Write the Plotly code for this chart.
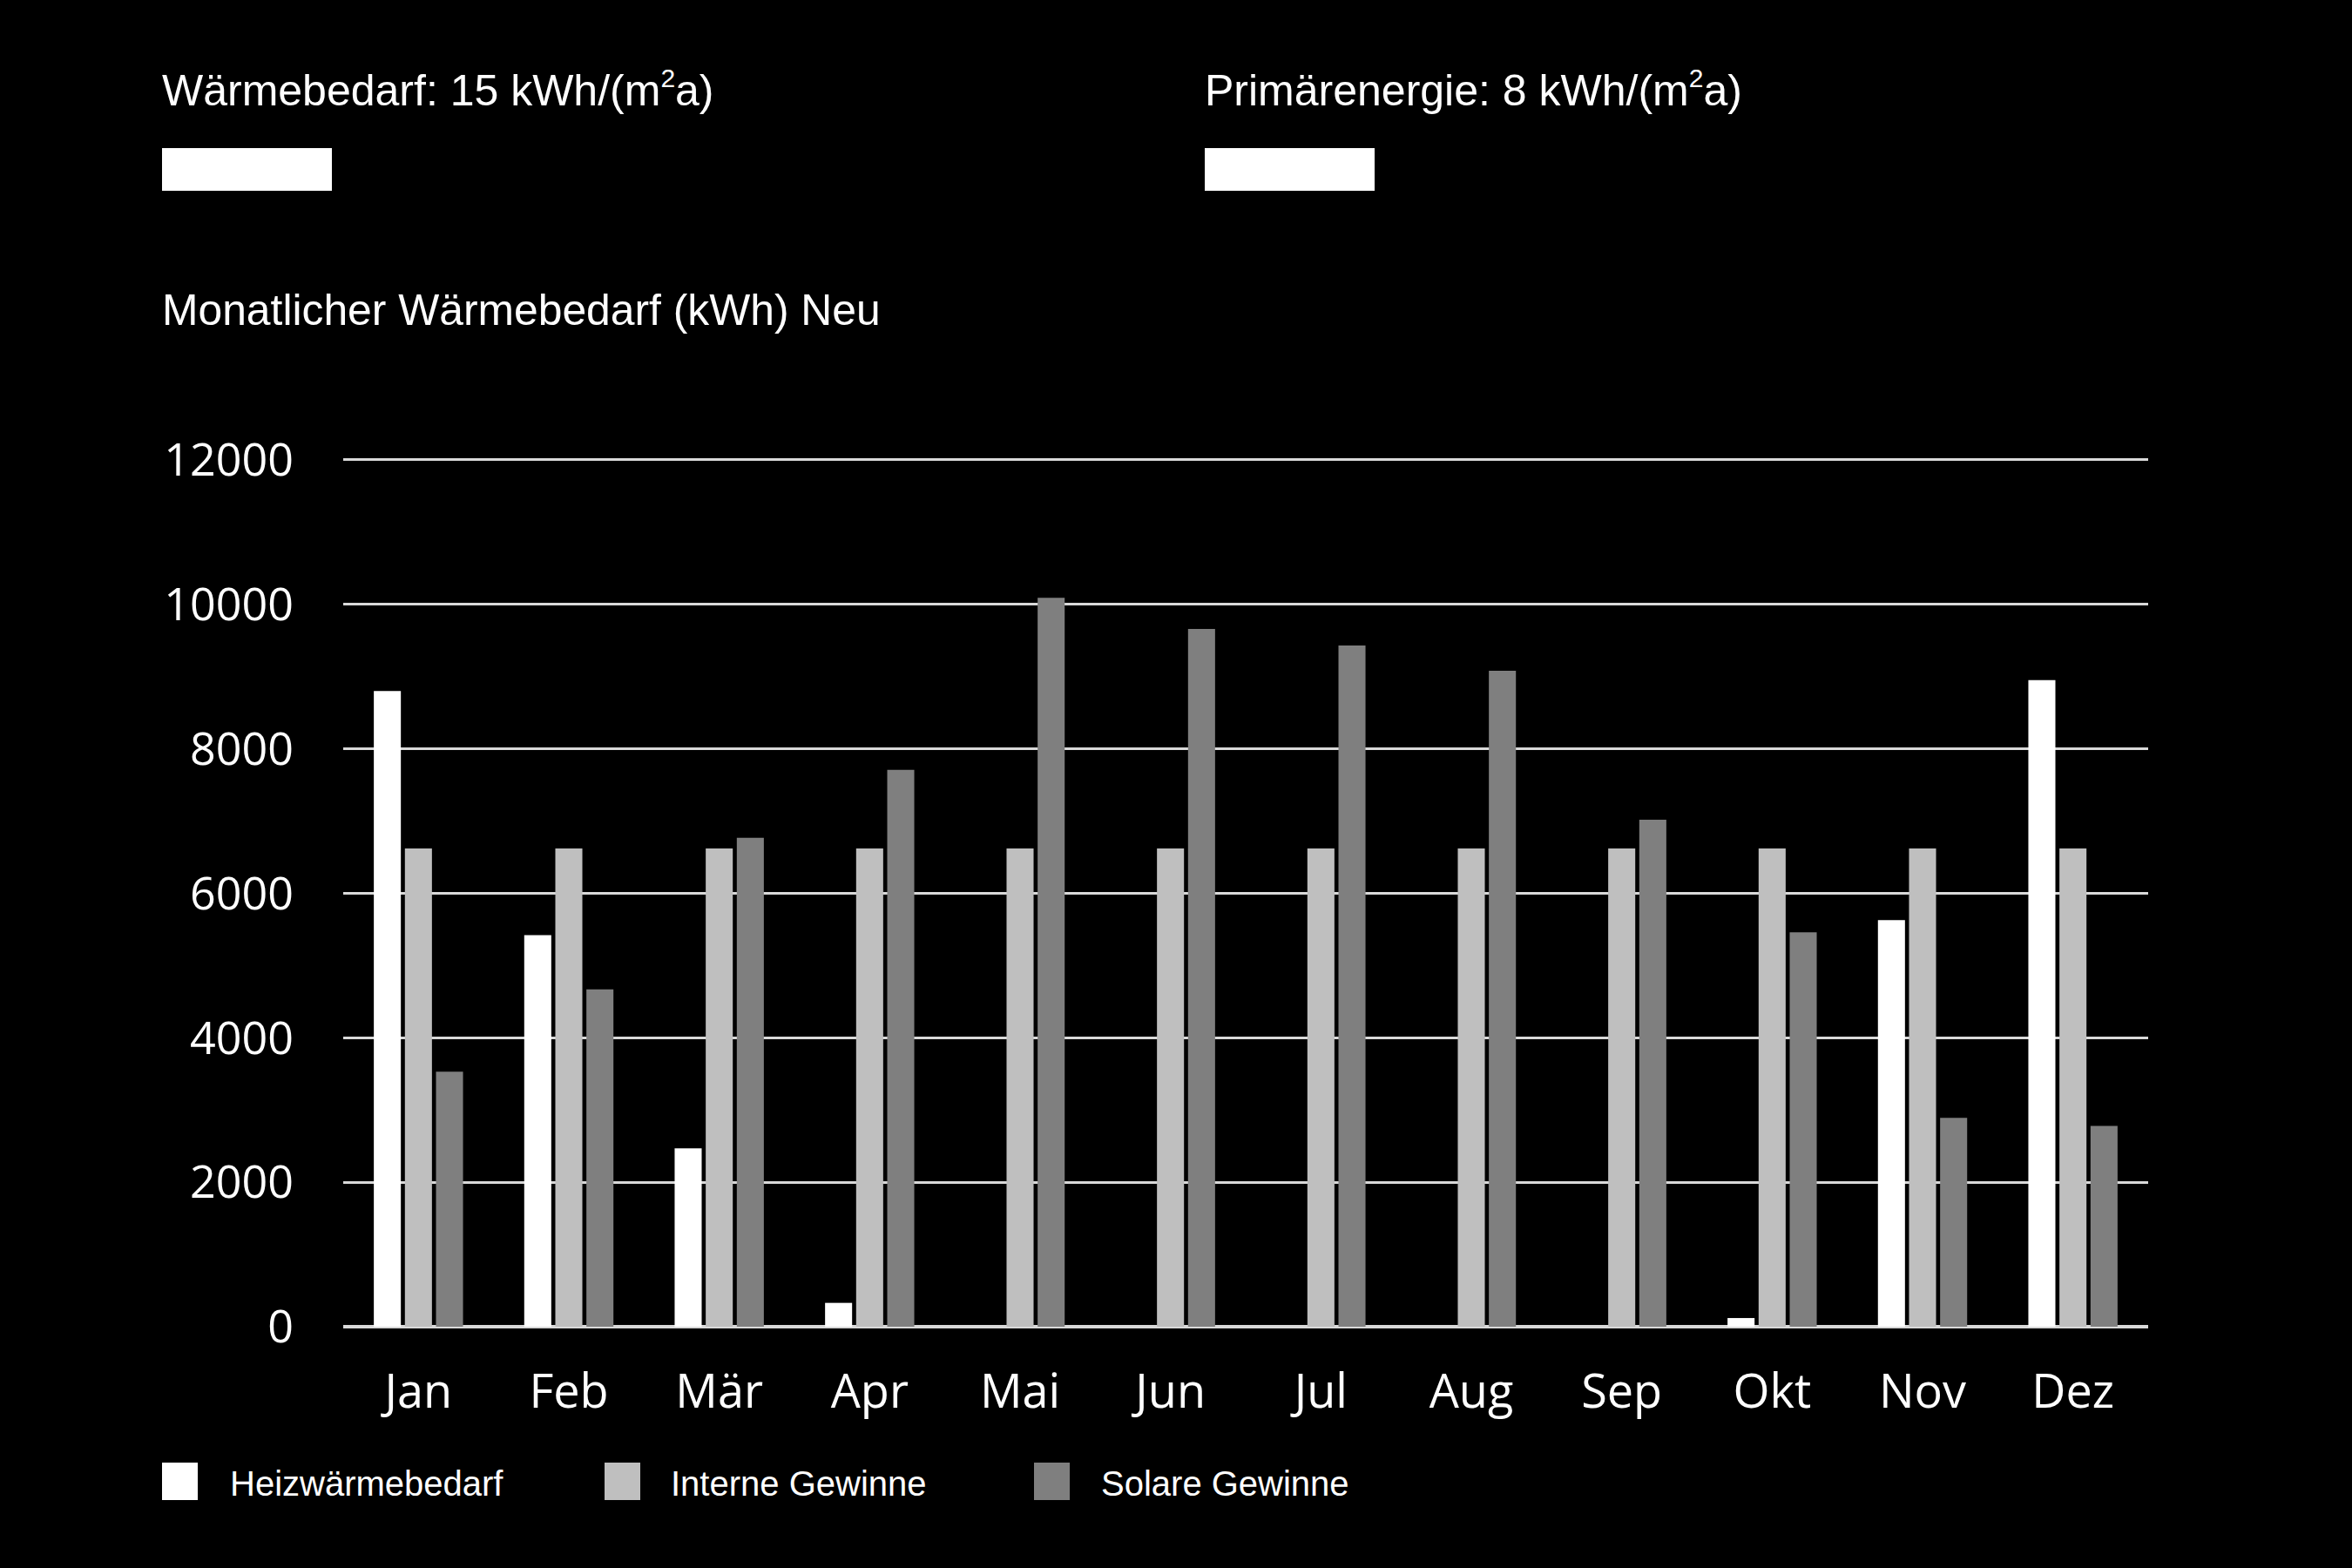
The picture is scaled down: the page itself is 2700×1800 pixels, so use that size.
import plotly.graph_objects as go

# ---- data ----
months = ["Jan", "Feb", "Mär", "Apr", "Mai", "Jun", "Jul", "Aug", "Sep", "Okt", "Nov", "Dez"]
heizwaermebedarf = [8800, 5420, 2470, 330, 0, 0, 0, 0, 0, 120, 5630, 8950]
interne_gewinne = [6620, 6620, 6620, 6620, 6620, 6620, 6620, 6620, 6620, 6620, 6620, 6620]
solare_gewinne = [3530, 4670, 6770, 7710, 10090, 9660, 9430, 9080, 7020, 5460, 2890, 2780]
series_names = ["Heizwärmebedarf", "Interne Gewinne", "Solare Gewinne"]
series_colors = ["#ffffff", "#bfbfbf", "#7f7f7f"]
y_ticks = [0, 2000, 4000, 6000, 8000, 10000, 12000]
y_tick_labels = ["0", "2000", "4000", "6000", "8000", "10000", "12000"]
SUP2 = "<sup><span style='font-size:30px'>2</span></sup>"
title_left = "Wärmebedarf: 15 kWh/(m" + SUP2 + "a)"
title_right = "Primärenergie: 8 kWh/(m" + SUP2 + "a)"
subtitle = "Monatlicher Wärmebedarf (kWh) Neu"

# ---- layout geometry (pixels) ----
W, H = 2700, 1800
Y_MAX = 12120
L, R, B = 394, 2466, 1523
T = 528 - (Y_MAX - 12000) / 12000 * (B - 528)


def px(x):
    return (x - L) / (R - L)


def py(y):
    return (B - y) / (B - T)


fig = go.Figure()
for name, vals, col in zip(series_names, [heizwaermebedarf, interne_gewinne, solare_gewinne], series_colors):
    fig.add_trace(go.Bar(x=months, y=vals, name=name, marker=dict(color=col, line=dict(width=0)),
                         showlegend=False))

txt_font = dict(family="Liberation Sans, Arial, sans-serif", color="white")

annotations = [
    dict(text=title_left, x=px(184), y=py(103), xref="paper", yref="paper", xanchor="left",
         yanchor="middle", showarrow=False, font=dict(size=50, **txt_font)),
    dict(text=title_right, x=px(1381), y=py(103), xref="paper", yref="paper", xanchor="left",
         yanchor="middle", showarrow=False, font=dict(size=50, **txt_font)),
    dict(text=subtitle, x=px(184), y=py(356), xref="paper", yref="paper", xanchor="left",
         yanchor="middle", showarrow=False, font=dict(size=49.8, **txt_font)),
]
shapes = [
    dict(type="rect", xref="paper", yref="paper", x0=px(186), x1=px(381), y0=py(219), y1=py(170),
         fillcolor="white", line=dict(width=0)),
    dict(type="rect", xref="paper", yref="paper", x0=px(1383), x1=px(1578), y0=py(219), y1=py(170),
         fillcolor="white", line=dict(width=0)),
]

# custom legend (large swatches)
legend_sq_x = [186, 694, 1187]
legend_txt_x = [262, 768, 1262]
for name, col, sx, tx in zip(series_names, series_colors, legend_sq_x, legend_txt_x):
    shapes.append(dict(type="rect", xref="paper", yref="paper", x0=px(sx), x1=px(sx + 41),
                       y0=py(1722), y1=py(1679), fillcolor=col, line=dict(width=0)))
    annotations.append(dict(text=name, x=px(tx), y=py(1703), xref="paper", yref="paper",
                            xanchor="left", yanchor="middle", showarrow=False,
                            font=dict(size=40, **txt_font)))

fig.update_layout(
    width=W, height=H,
    paper_bgcolor="black", plot_bgcolor="black",
    margin=dict(l=L, r=W - R, t=T, b=H - B, pad=0),
    barmode="group", bargap=0.38, bargroupgap=0.13,
    annotations=annotations, shapes=shapes,
    showlegend=False,
)
fig.update_xaxes(showgrid=False, showline=False, zeroline=False, ticks="",
                 tickfont=dict(family="Open Sans, sans-serif", size=54, color="white"),
                 ticklabelstandoff=38)
fig.update_yaxes(range=[0, Y_MAX], tickvals=y_ticks, ticktext=y_tick_labels, showgrid=True,
                 gridcolor="#d9d9d9", gridwidth=3, zeroline=True, zerolinecolor="#d9d9d9",
                 zerolinewidth=4, showline=False, ticks="", ticklabelstandoff=56,
                 tickfont=dict(family="Open Sans, sans-serif", size=52, color="white"))

fig.write_html(
    "out.html",
    config={"displayModeBar": False},
    post_script="document.body.style.margin='0';document.body.style.background='black';",
)
